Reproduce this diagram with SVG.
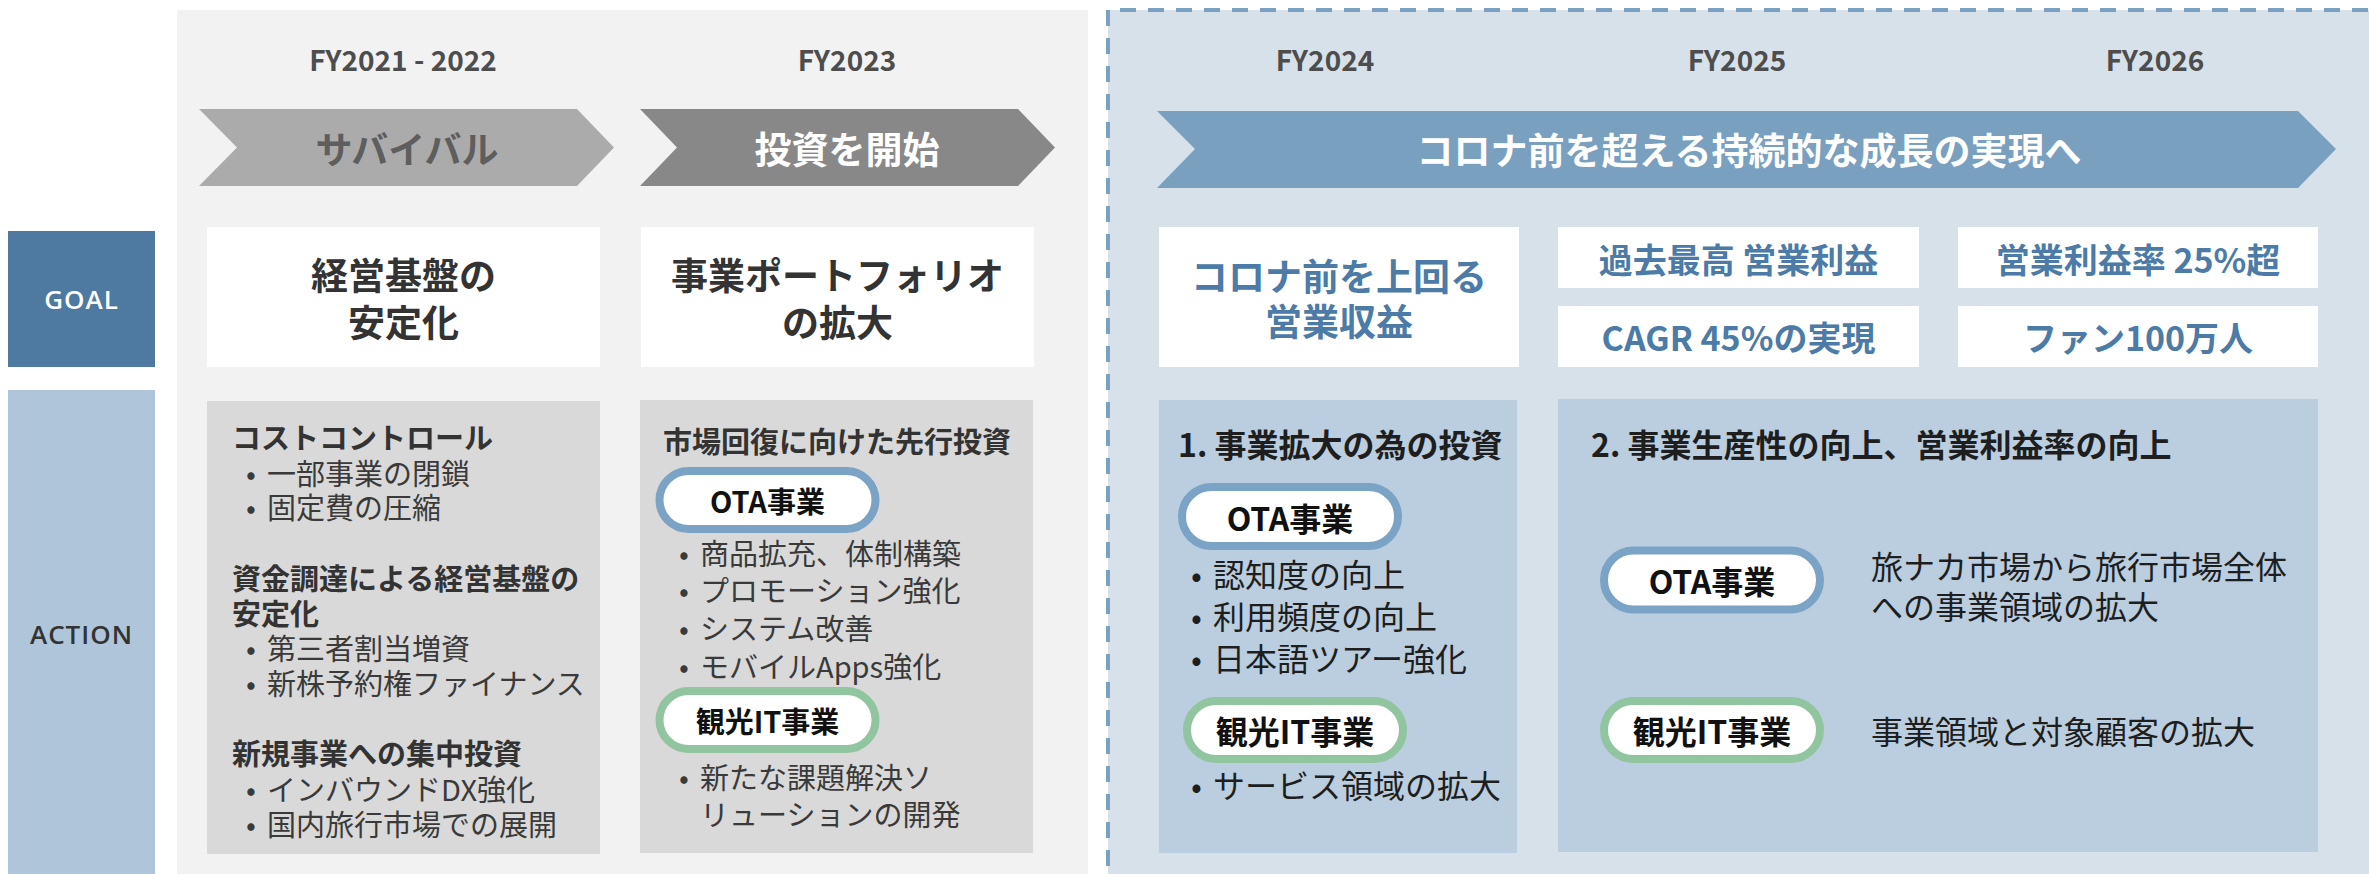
<svg xmlns="http://www.w3.org/2000/svg" width="2369" height="874" viewBox="0 0 2369 874">
<style>
text{font-family:"Noto Sans CJK JP","Noto Sans",sans-serif;}
.fy{font-size:28px;font-weight:700;fill:#4d4d4d;text-anchor:middle;}
.lbl{font-family:"Open Sans","Noto Sans",sans-serif;font-size:26px;font-weight:600;text-anchor:middle;dominant-baseline:central;letter-spacing:1px;}
.chev{font-size:37px;font-weight:700;text-anchor:middle;dominant-baseline:central;}
.goal{font-size:37px;font-weight:700;fill:#333;text-anchor:middle;dominant-baseline:central;}
.goalb{font-size:37px;font-weight:700;fill:#4b7ba6;text-anchor:middle;dominant-baseline:central;}
.goals{font-size:34px;font-weight:700;fill:#4b7ba6;text-anchor:middle;dominant-baseline:central;}
.g{font-size:29px;fill:#3a3a3a;dominant-baseline:central;}
.gh{font-size:29px;font-weight:700;fill:#333;dominant-baseline:central;}
.b{font-size:32px;fill:#1e1e1e;dominant-baseline:central;}
.bh{font-size:32px;font-weight:700;fill:#1e1e1e;dominant-baseline:central;}
.pill{fill:#fff;stroke-width:8;}
.ota{stroke:#7aa3c5;}
.kan{stroke:#91c59f;}
.pt{font-weight:700;fill:#111;text-anchor:middle;dominant-baseline:central;}
</style>

<!-- backgrounds -->
<rect id="past-panel" x="177" y="10" width="911" height="864" fill="#f2f2f2"/>
<rect id="future-panel" x="1108" y="10" width="1261" height="864" fill="#d7e1ea"/>
<g id="future-border" fill="none" stroke="#7aa0c2" stroke-width="4">
  <path d="M1108 10 H2369" stroke-dasharray="16 12" stroke-dashoffset="16"/>
  <path d="M1108 10 V874" stroke-dasharray="16 12"/>
</g>

<!-- row labels -->
<g id="goal-label">
  <rect x="8" y="231" width="147" height="136" fill="#4e79a0"/>
  <text class="lbl" x="81.5" y="299" fill="#fff">GOAL</text>
</g>
<g id="action-label">
  <rect x="8" y="390" width="147" height="484" fill="#afc6da"/>
  <text class="lbl" x="81.5" y="634" fill="#333">ACTION</text>
</g>

<!-- year headers -->
<g id="years">
  <text class="fy" x="403" y="71">FY2021 - 2022</text>
  <text class="fy" x="847" y="71">FY2023</text>
  <text class="fy" x="1325" y="71">FY2024</text>
  <text class="fy" x="1737" y="71">FY2025</text>
  <text class="fy" x="2155" y="71">FY2026</text>
</g>

<!-- phase chevrons -->
<g id="phase-survival">
  <polygon points="199,109 577,109 614,147.5 577,186 199,186 237,147.5" fill="#ababab"/>
  <text class="chev" x="407" y="147.5" fill="#5e5e5e">サバイバル</text>
</g>
<g id="phase-invest">
  <polygon points="640,109 1018,109 1055,147.5 1018,186 640,186 677,147.5" fill="#888888"/>
  <text class="chev" x="847" y="147.5" fill="#fff">投資を開始</text>
</g>
<g id="phase-growth">
  <polygon points="1157,111 2298,111 2336,149 2298,188 1157,188 1195,149" fill="#7aa0c0"/>
  <text class="chev" x="1749" y="149" fill="#fff">コロナ前を超える持続的な成長の実現へ</text>
</g>

<!-- goals -->
<g id="goal-1">
  <rect x="207" y="227" width="393" height="140" fill="#fff"/>
  <text class="goal" x="403.5" y="274">経営基盤の</text>
  <text class="goal" x="403.5" y="321">安定化</text>
</g>
<g id="goal-2">
  <rect x="641" y="227" width="393" height="140" fill="#fff"/>
  <text class="goal" x="837.5" y="274">事業ポートフォリオ</text>
  <text class="goal" x="837.5" y="321">の拡大</text>
</g>
<g id="goal-3">
  <rect x="1159" y="227" width="360" height="140" fill="#fff"/>
  <text class="goalb" x="1339" y="275">コロナ前を上回る</text>
  <text class="goalb" x="1339" y="320">営業収益</text>
</g>
<g id="goal-4">
  <rect x="1558" y="227" width="361" height="61" fill="#fff"/>
  <text class="goals" x="1738.5" y="258">過去最高 営業利益</text>
</g>
<g id="goal-5">
  <rect x="1558" y="306" width="361" height="61" fill="#fff"/>
  <text class="goals" x="1738.5" y="336.5">CAGR 45%の実現</text>
</g>
<g id="goal-6">
  <rect x="1958" y="227" width="360" height="61" fill="#fff"/>
  <text class="goals" x="2138" y="258">営業利益率 25%超</text>
</g>
<g id="goal-7">
  <rect x="1958" y="306" width="360" height="61" fill="#fff"/>
  <text class="goals" x="2138" y="336.5">ファン100万人</text>
</g>

<!-- actions -->
<g id="action-1">
  <rect x="207" y="401" width="393" height="453" fill="#d9d9d9"/>
  <text class="gh" x="232" y="436">コストコントロール</text>
  <text class="g" y="472"><tspan x="246">•</tspan><tspan x="267">一部事業の閉鎖</tspan></text>
  <text class="g" y="506"><tspan x="246">•</tspan><tspan x="267">固定費の圧縮</tspan></text>
  <text class="gh" x="232" y="577">資金調達による経営基盤の</text>
  <text class="gh" x="232" y="612">安定化</text>
  <text class="g" y="647"><tspan x="246">•</tspan><tspan x="267">第三者割当増資</tspan></text>
  <text class="g" y="682"><tspan x="246">•</tspan><tspan x="267">新株予約権ファイナンス</tspan></text>
  <text class="gh" x="232" y="752">新規事業への集中投資</text>
  <text class="g" y="788"><tspan x="246">•</tspan><tspan x="267">インバウンドDX強化</tspan></text>
  <text class="g" y="823"><tspan x="246">•</tspan><tspan x="267">国内旅行市場での展開</tspan></text>
</g>
<g id="action-2">
  <rect x="640" y="400" width="393" height="453" fill="#d9d9d9"/>
  <text class="gh" x="663" y="440">市場回復に向けた先行投資</text>
  <rect class="pill ota" x="659.5" y="471" width="216" height="58" rx="29"/>
  <text class="pt" x="767.5" y="500" font-size="29">OTA事業</text>
  <text class="g" y="552"><tspan x="679">•</tspan><tspan x="700">商品拡充、体制構築</tspan></text>
  <text class="g" y="589"><tspan x="679">•</tspan><tspan x="700">プロモーション強化</tspan></text>
  <text class="g" y="627"><tspan x="679">•</tspan><tspan x="700">システム改善</tspan></text>
  <text class="g" y="665"><tspan x="679">•</tspan><tspan x="700">モバイルApps強化</tspan></text>
  <rect class="pill kan" x="659.5" y="691" width="216" height="58" rx="29"/>
  <text class="pt" x="767.5" y="720" font-size="29">観光IT事業</text>
  <text class="g" y="776"><tspan x="679">•</tspan><tspan x="700">新たな課題解決ソ</tspan></text>
  <text class="g" x="700" y="813">リューションの開発</text>
</g>
<g id="action-3">
  <rect x="1159" y="400" width="358" height="453" fill="#bacedf"/>
  <text class="bh" x="1178" y="443">1. 事業拡大の為の投資</text>
  <rect class="pill ota" x="1182" y="487" width="216" height="59" rx="29.5"/>
  <text class="pt" x="1290" y="516.5" font-size="32">OTA事業</text>
  <text class="b" y="573"><tspan x="1191">•</tspan><tspan x="1213">認知度の向上</tspan></text>
  <text class="b" y="615"><tspan x="1191">•</tspan><tspan x="1213">利用頻度の向上</tspan></text>
  <text class="b" y="657"><tspan x="1191">•</tspan><tspan x="1213">日本語ツアー強化</tspan></text>
  <rect class="pill kan" x="1187" y="701" width="216" height="58" rx="29"/>
  <text class="pt" x="1295" y="730" font-size="32">観光IT事業</text>
  <text class="b" y="784"><tspan x="1191">•</tspan><tspan x="1213">サービス領域の拡大</tspan></text>
</g>
<g id="action-4">
  <rect x="1558" y="399" width="760" height="453" fill="#bacedf"/>
  <text class="bh" x="1591" y="443">2. 事業生産性の向上、営業利益率の向上</text>
  <rect class="pill ota" x="1604" y="550.5" width="216" height="59" rx="29.5"/>
  <text class="pt" x="1712" y="580" font-size="32">OTA事業</text>
  <text class="b" x="1871" y="565">旅ナカ市場から旅行市場全体</text>
  <text class="b" x="1871" y="605">への事業領域の拡大</text>
  <rect class="pill kan" x="1604" y="701" width="216" height="58" rx="29"/>
  <text class="pt" x="1712" y="730" font-size="32">観光IT事業</text>
  <text class="b" x="1871" y="730">事業領域と対象顧客の拡大</text>
</g>
</svg>
